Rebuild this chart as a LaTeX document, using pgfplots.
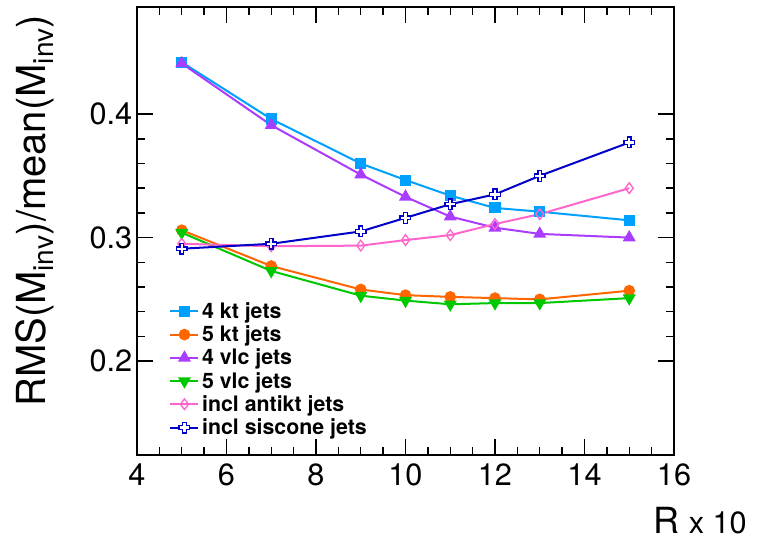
\documentclass[border=0pt]{standalone}
\usepackage{fontspec}
\setmainfont{TeX Gyre Heros}
\usepackage{pgfplots}
\pgfplotsset{compat=1.18}
\definecolor{ckt4}{RGB}{0,160,255}
\definecolor{ckt5}{RGB}{255,102,0}
\definecolor{cvlc4}{RGB}{170,60,255}
\definecolor{cvlc5}{RGB}{0,200,0}
\definecolor{canti}{RGB}{255,102,204}
\definecolor{csis}{RGB}{0,0,200}
\pgfdeclareplotmark{ocross}{%
  \pgfpathmoveto{\pgfpoint{-0.35\pgfplotmarksize}{\pgfplotmarksize}}%
  \pgfpathlineto{\pgfpoint{0.35\pgfplotmarksize}{\pgfplotmarksize}}%
  \pgfpathlineto{\pgfpoint{0.35\pgfplotmarksize}{0.35\pgfplotmarksize}}%
  \pgfpathlineto{\pgfpoint{\pgfplotmarksize}{0.35\pgfplotmarksize}}%
  \pgfpathlineto{\pgfpoint{\pgfplotmarksize}{-0.35\pgfplotmarksize}}%
  \pgfpathlineto{\pgfpoint{0.35\pgfplotmarksize}{-0.35\pgfplotmarksize}}%
  \pgfpathlineto{\pgfpoint{0.35\pgfplotmarksize}{-\pgfplotmarksize}}%
  \pgfpathlineto{\pgfpoint{-0.35\pgfplotmarksize}{-\pgfplotmarksize}}%
  \pgfpathlineto{\pgfpoint{-0.35\pgfplotmarksize}{-0.35\pgfplotmarksize}}%
  \pgfpathlineto{\pgfpoint{-\pgfplotmarksize}{-0.35\pgfplotmarksize}}%
  \pgfpathlineto{\pgfpoint{-\pgfplotmarksize}{0.35\pgfplotmarksize}}%
  \pgfpathlineto{\pgfpoint{-0.35\pgfplotmarksize}{0.35\pgfplotmarksize}}%
  \pgfpathclose
  \pgfusepathqfillstroke
}
\begin{document}
\begin{tikzpicture}
\begin{axis}[
  name=ax,
  scale only axis,
  width=402.75pt, height=336pt,
  xmin=4, xmax=16, ymin=0.124, ymax=0.4867,
  xtick={4,6,...,16}, ytick={0.2,0.3,0.4},
  minor x tick num=3, minor y tick num=4,
  tick align=inside,
  major tick length=12pt, minor tick length=6pt,
  axis line style={line width=1.3pt},
  every tick/.style={black, line width=1.1pt},
  /pgf/number format/assume math mode=true,
  tick label style={font=\fontsize{23}{27}\selectfont},
  xticklabel style={yshift=-3pt},
  yticklabel style={/pgf/number format/fixed, /pgf/number format/precision=1, /pgf/number format/fixed zerofill},
  ylabel={RMS(M\textsubscript{inv})/mean(M\textsubscript{inv})},
  ylabel style={font=\fontsize{30}{34}\selectfont, at={(axis description cs:-0.235,0.993)}, anchor=north east},
  xlabel={R\hspace{7pt}{\fontsize{23}{25}\selectfont x 10}},
  xlabel style={font=\fontsize{27}{30}\selectfont, inner sep=0pt, at={(axis description cs:1.136,-0.115)}, anchor=north east},
  legend style={draw=none, fill=none, at={(axis description cs:0.0525,0.353)}, anchor=north west,
    font=\fontsize{16}{19}\selectfont\bfseries, row sep=0pt,
    /tikz/every even column/.append style={column sep=6pt}},
  legend cell align=left,
  legend image code/.code={\draw[#1] (0pt,0pt) -- (21pt,0pt); \draw[#1, mark repeat=1] plot coordinates {(10.5pt,0pt)};},
  every axis plot/.append style={line width=1.5pt},
]
\addplot[color=ckt4, mark=square*, mark size=3.4pt] coordinates {
(5,0.442) (7,0.396) (9,0.360) (10,0.3466) (11,0.334) (12,0.324) (13,0.321) (15,0.314)};
\addlegendentry{4 kt jets}
\addplot[color=ckt5, mark=*, mark size=3.6pt] coordinates {
(5,0.306) (7,0.277) (9,0.258) (10,0.2534) (11,0.252) (12,0.251) (13,0.250) (15,0.257)};
\addlegendentry{5 kt jets}
\addplot[color=cvlc4, mark=triangle*, mark size=4.2pt] coordinates {
(5,0.441) (7,0.391) (9,0.351) (10,0.333) (11,0.317) (12,0.308) (13,0.303) (15,0.300)};
\addlegendentry{4 vlc jets}
\addplot[color=cvlc5, mark=triangle*, mark options={rotate=180}, mark size=4.2pt] coordinates {
(5,0.304) (7,0.273) (9,0.253) (10,0.249) (11,0.246) (12,0.247) (13,0.247) (15,0.251)};
\addlegendentry{5 vlc jets}
\addplot[color=canti, mark=diamond, mark size=4pt, mark options={fill=white, line width=1pt}] coordinates {
(5,0.295) (7,0.293) (9,0.2935) (10,0.298) (11,0.302) (12,0.311) (13,0.319) (15,0.340)};
\addlegendentry{incl antikt jets}
\addplot[color=csis, mark=ocross, mark size=4pt, mark options={fill=white, line width=1pt}] coordinates {
(5,0.291) (7,0.295) (9,0.305) (10,0.316) (11,0.327) (12,0.335) (13,0.350) (15,0.377)};
\addlegendentry{incl siscone jets}
\end{axis}
\pgfresetboundingbox
\path[use as bounding box] ([xshift=-102.75pt,yshift=-65.25pt]ax.south west) rectangle ([xshift=68.25pt,yshift=5.25pt]ax.north east);
\end{tikzpicture}
\end{document}
